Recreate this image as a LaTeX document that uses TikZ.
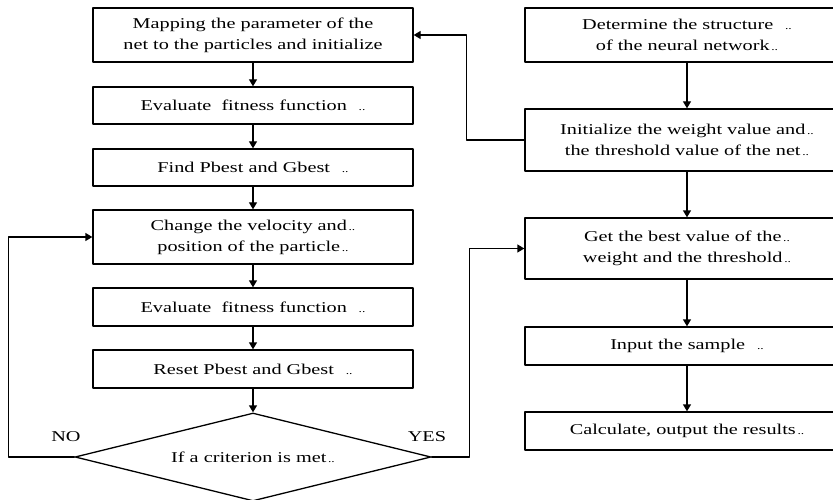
\documentclass[tikz,border=0pt]{standalone}
\usepackage{fontspec}
\setmainfont[FakeStretch=1.35]{Liberation Serif}
\usetikzlibrary{shapes.geometric,arrows.meta}
\newcommand{\dd}{{\fontsize{10}{10}\selectfont\,..}}
\begin{document}
\begin{tikzpicture}[x=1pt,y=1pt,line cap=round,line join=round,font=\fontsize{15}{21}\selectfont,>={Triangle[width=8pt,length=7pt]},line width=1.3pt]
	\tikzset{box/.style={draw,align=center,inner sep=0pt,minimum width=320pt},
	rbox/.style={box,minimum width=324pt},
	choice/.style={draw,diamond,aspect=4,inner sep=0pt,minimum width=356pt,minimum height=88pt}}
	\useasboundingbox (0,0) rectangle (833,499);
	% left column
	\node[box,minimum height=54pt] (map) at (253,464) {Mapping the parameter of the\\net to the particles and initialize};
	\node[box,minimum height=37pt] (evalA) at (253,393.5) {Evaluate~ fitness function ~\dd};
	\node[box,minimum height=37pt] (find) at (253,331.5) {Find Pbest and Gbest ~\dd};
	\node[box,minimum height=54pt] (change) at (253,262) {Change the velocity and\dd\\position of the particle\dd};
	\node[box,minimum height=38pt] (evalB) at (253,192) {Evaluate~ fitness function ~\dd};
	\node[box,minimum height=38pt] (reset) at (253,130) {Reset Pbest and Gbest ~\dd};
	\node[choice] (test) at (253,42) {If a criterion is met\dd};
	\node (no) at (66,62) {NO};
	\node (yes) at (427,62) {YES};
	% right column
	\node[rbox,minimum height=54pt] (struct) at (687,464) {Determine the structure ~\dd\\of the neural network\dd};
	\node[rbox,minimum height=62pt] (init) at (687,359) {Initialize the weight value and\dd\\the threshold value of the net\dd};
	\node[rbox,minimum height=61pt] (best) at (687,250.5) {Get the best value of the\dd\\weight and the threshold\dd};
	\node[rbox,minimum height=38pt] (input) at (687,153) {Input the sample ~\dd};
	\node[rbox,minimum height=38pt] (calc) at (687,68) {Calculate, output the results\dd};
	% connectors
	\draw[->] (map)--(evalA);
	\draw[->] (evalA)--(find);
	\draw[->] (find)--(change);
	\draw[->] (change)--(evalB);
	\draw[->] (evalB)--(reset);
	\draw[->] (reset)--(test);
	\draw[->] (struct)--(init);
	\draw[->] (init)--(best);
	\draw[->] (best)--(input);
	\draw[->] (input)--(calc);
	\draw[->] (init.west)--++(-58,0)|-(map.east);
	\draw[->] (test.west)--++(-66,0)|-(change.west);
	\draw[->] (test.east)--++(38,0)|-(best.west);
\end{tikzpicture}
\end{document}
